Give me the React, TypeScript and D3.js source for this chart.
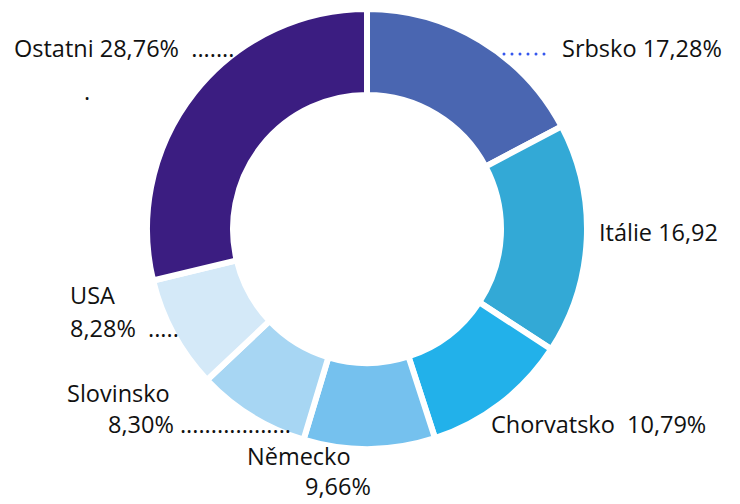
import React, { useEffect, useRef } from 'react'
import * as d3 from 'd3'

// share of exports by country (%)
const countries = ['Srbsko', 'Itálie', 'Chorvatsko', 'Německo', 'Slovinsko', 'USA', 'Ostatni']
const shares = [17.28, 16.92, 10.79, 9.66, 8.30, 8.28, 28.76]
const colors = ['#4a66b1', '#33a9d6', '#22b1ea', '#75c1ee', '#a7d6f3', '#d4e9f8', '#3b1d81']

// label text lines as printed in the source
const labelLines = [
  ['Srbsko 17,28%'],
  ['Itálie 16,92'],
  ['Chorvatsko  10,79%'],
  ['Německo', '9,66%'],
  ['Slovinsko', '8,30% ..................'],
  ['USA', '8,28%  .....'],
  ['Ostatni 28,76%  .......', '.'],
]

const W = 740
const H = 504

// hand placed label anchors (x, first baseline, line gap, line indents)
const labelLayout = [
  { x: 562, y: 57, gap: 0, indent: [0] },
  { x: 599, y: 241, gap: 0, indent: [0] },
  { x: 491, y: 433, gap: 0, indent: [0] },
  { x: 247, y: 465, gap: 30, indent: [0, 58] },
  { x: 67, y: 402, gap: 31, indent: [0, 41] },
  { x: 70, y: 304, gap: 33, indent: [0, 0] },
  { x: 14, y: 57, gap: 43, indent: [0, 70] },
]

function App() {
  const ref = useRef<SVGSVGElement>(null)

  useEffect(() => {
    const svg = d3.select(ref.current)
    svg.selectAll('*').remove()

    const cx = 367
    const cy = 229
    const outerR = 220
    const innerR = 134

    const pie = d3.pie<number>().sort(null).value(d => d)
    const arc = d3.arc<d3.PieArcDatum<number>>().innerRadius(innerR).outerRadius(outerR)

    const g = svg.append('g').attr('transform', `translate(${cx},${cy})`)

    g.selectAll('path')
      .data(pie(shares))
      .join('path')
      .attr('d', arc)
      .attr('fill', (d, i) => colors[i])
      .attr('stroke', '#fff')
      .attr('stroke-width', 6)
      .append('title')
      .text((d, i) => `${countries[i]}: ${shares[i]}%`)

    // blue leader dots for Srbsko
    svg.append('line')
      .attr('x1', 504).attr('x2', 552)
      .attr('y1', 54).attr('y2', 54)
      .attr('stroke', '#3557ee')
      .attr('stroke-width', 3)
      .attr('stroke-linecap', 'round')
      .attr('stroke-dasharray', '0 8')

    const labels = svg.append('g')
      .attr('font-family', '"Open Sans", "Noto Sans", sans-serif')
      .attr('font-size', 23.5)
      .attr('fill', '#111')

    labelLines.forEach((lines, i) => {
      const pos = labelLayout[i]
      const t = labels.append('text')
        .attr('y', pos.y)
        .attr('xml:space', 'preserve')
        .style('white-space', 'pre')
      lines.forEach((line, j) => {
        t.append('tspan')
          .attr('x', pos.x + pos.indent[j])
          .attr('y', pos.y + j * pos.gap)
          .text(line)
      })
    })
  }, [])

  return <svg ref={ref} width={W} height={H} style={{ position: 'absolute', left: 0, top: 0 }} />
}

export default App
